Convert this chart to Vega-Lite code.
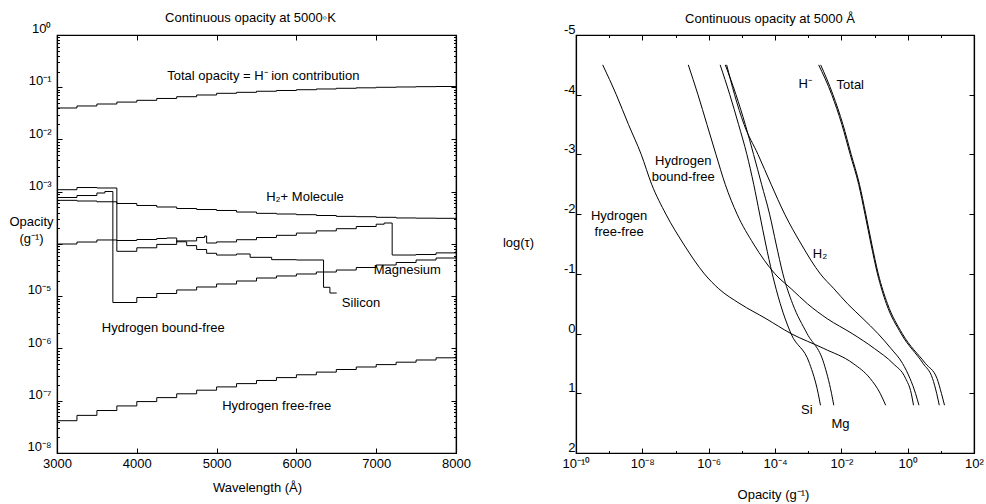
{
  "$schema": "https://vega.github.io/schema/vega-lite/v6.json",
  "background": "white",
  "padding": {"left": 8, "top": 10, "right": 0, "bottom": 0},
  "bounds": "flush",
  "spacing": 120,
  "config": {
    "font": "Liberation Sans",
    "view": {"stroke": "black", "strokeWidth": 1.2},
    "axis": {"domainColor": "black", "domainWidth": 1.2, "tickColor": "black", "tickWidth": 1, "labelColor": "black", "titleColor": "black", "labelFont": "Liberation Sans", "titleFont": "Liberation Sans", "labelFontSize": 13, "titleFontSize": 13, "titleFontWeight": "normal", "grid": false, "labelFlush": false, "labelOverlap": false},
    "title": {"font": "Liberation Sans", "fontSize": 13, "fontWeight": "normal", "color": "black"},
    "text": {"font": "Liberation Sans", "fontSize": 13, "color": "black"},
    "line": {"color": "black", "strokeWidth": 1}
  },
  "datasets": {
    "left": [
      {"series": "Total", "wavelength": 3000, "opacity": 0.0401},
      {"series": "Total", "wavelength": 3250, "opacity": 0.0438},
      {"series": "Total", "wavelength": 3500, "opacity": 0.0478},
      {"series": "Total", "wavelength": 3750, "opacity": 0.0520},
      {"series": "Total", "wavelength": 4000, "opacity": 0.0562},
      {"series": "Total", "wavelength": 4250, "opacity": 0.0610},
      {"series": "Total", "wavelength": 4500, "opacity": 0.0659},
      {"series": "Total", "wavelength": 4750, "opacity": 0.0711},
      {"series": "Total", "wavelength": 5000, "opacity": 0.0766},
      {"series": "Total", "wavelength": 5250, "opacity": 0.0800},
      {"series": "Total", "wavelength": 5500, "opacity": 0.0838},
      {"series": "Total", "wavelength": 5750, "opacity": 0.0867},
      {"series": "Total", "wavelength": 6000, "opacity": 0.0897},
      {"series": "Total", "wavelength": 6250, "opacity": 0.0927},
      {"series": "Total", "wavelength": 6500, "opacity": 0.0955},
      {"series": "Total", "wavelength": 6750, "opacity": 0.0975},
      {"series": "Total", "wavelength": 7000, "opacity": 0.0998},
      {"series": "Total", "wavelength": 7250, "opacity": 0.1012},
      {"series": "Total", "wavelength": 7500, "opacity": 0.1026},
      {"series": "Total", "wavelength": 7750, "opacity": 0.1033},
      {"series": "Total", "wavelength": 8000, "opacity": 0.1042},
      {"series": "H2+", "wavelength": 3000, "opacity": 6.85e-4},
      {"series": "H2+", "wavelength": 3250, "opacity": 6.65e-4},
      {"series": "H2+", "wavelength": 3500, "opacity": 6.43e-4},
      {"series": "H2+", "wavelength": 3750, "opacity": 5.96e-4},
      {"series": "H2+", "wavelength": 4000, "opacity": 5.46e-4},
      {"series": "H2+", "wavelength": 4250, "opacity": 5.11e-4},
      {"series": "H2+", "wavelength": 4500, "opacity": 4.78e-4},
      {"series": "H2+", "wavelength": 4750, "opacity": 4.57e-4},
      {"series": "H2+", "wavelength": 5000, "opacity": 4.38e-4},
      {"series": "H2+", "wavelength": 5250, "opacity": 4.09e-4},
      {"series": "H2+", "wavelength": 5500, "opacity": 3.86e-4},
      {"series": "H2+", "wavelength": 5750, "opacity": 3.75e-4},
      {"series": "H2+", "wavelength": 6000, "opacity": 3.64e-4},
      {"series": "H2+", "wavelength": 6250, "opacity": 3.51e-4},
      {"series": "H2+", "wavelength": 6500, "opacity": 3.38e-4},
      {"series": "H2+", "wavelength": 6750, "opacity": 3.33e-4},
      {"series": "H2+", "wavelength": 7000, "opacity": 3.24e-4},
      {"series": "H2+", "wavelength": 7250, "opacity": 3.15e-4},
      {"series": "H2+", "wavelength": 7500, "opacity": 3.12e-4},
      {"series": "H2+", "wavelength": 7750, "opacity": 3.10e-4},
      {"series": "H2+", "wavelength": 8000, "opacity": 3.08e-4},
      {"series": "Magnesium", "wavelength": 3000, "opacity": 1.094e-3},
      {"series": "Magnesium", "wavelength": 3250, "opacity": 1.205e-3},
      {"series": "Magnesium", "wavelength": 3500, "opacity": 1.180e-3},
      {"series": "Magnesium", "wavelength": 3750, "opacity": 7.25e-5},
      {"series": "Magnesium", "wavelength": 4000, "opacity": 8.46e-5},
      {"series": "Magnesium", "wavelength": 4250, "opacity": 9.82e-5},
      {"series": "Magnesium", "wavelength": 4500, "opacity": 1.146e-4},
      {"series": "Magnesium", "wavelength": 4750, "opacity": 1.331e-4},
      {"series": "Magnesium", "wavelength": 4850, "opacity": 1.422e-4},
      {"series": "Magnesium", "wavelength": 4875, "opacity": 1.045e-4},
      {"series": "Magnesium", "wavelength": 5000, "opacity": 1.096e-4},
      {"series": "Magnesium", "wavelength": 5250, "opacity": 1.208e-4},
      {"series": "Magnesium", "wavelength": 5500, "opacity": 1.331e-4},
      {"series": "Magnesium", "wavelength": 5750, "opacity": 1.466e-4},
      {"series": "Magnesium", "wavelength": 6000, "opacity": 1.618e-4},
      {"series": "Magnesium", "wavelength": 6250, "opacity": 1.782e-4},
      {"series": "Magnesium", "wavelength": 6500, "opacity": 1.963e-4},
      {"series": "Magnesium", "wavelength": 6750, "opacity": 2.163e-4},
      {"series": "Magnesium", "wavelength": 7000, "opacity": 2.393e-4},
      {"series": "Magnesium", "wavelength": 7100, "opacity": 2.523e-4},
      {"series": "Magnesium", "wavelength": 7200, "opacity": 6.15e-5},
      {"series": "Magnesium", "wavelength": 7500, "opacity": 6.29e-5},
      {"series": "Magnesium", "wavelength": 7750, "opacity": 6.76e-5},
      {"series": "Magnesium", "wavelength": 8000, "opacity": 7.25e-5},
      {"series": "Silicon", "wavelength": 3000, "opacity": 1.0e-4},
      {"series": "Silicon", "wavelength": 3250, "opacity": 1.091e-4},
      {"series": "Silicon", "wavelength": 3500, "opacity": 1.194e-4},
      {"series": "Silicon", "wavelength": 3750, "opacity": 1.167e-4},
      {"series": "Silicon", "wavelength": 4000, "opacity": 1.219e-4},
      {"series": "Silicon", "wavelength": 4250, "opacity": 1.274e-4},
      {"series": "Silicon", "wavelength": 4375, "opacity": 1.303e-4},
      {"series": "Silicon", "wavelength": 4500, "opacity": 1.102e-4},
      {"series": "Silicon", "wavelength": 4625, "opacity": 9.31e-5},
      {"series": "Silicon", "wavelength": 4750, "opacity": 7.85e-5},
      {"series": "Silicon", "wavelength": 4875, "opacity": 6.64e-5},
      {"series": "Silicon", "wavelength": 5000, "opacity": 6.15e-5},
      {"series": "Silicon", "wavelength": 5250, "opacity": 6.44e-5},
      {"series": "Silicon", "wavelength": 5420, "opacity": 5.56e-5},
      {"series": "Silicon", "wavelength": 5690, "opacity": 5.01e-5},
      {"series": "Silicon", "wavelength": 6000, "opacity": 4.94e-5},
      {"series": "Silicon", "wavelength": 6340, "opacity": 1.483e-5},
      {"series": "Silicon", "wavelength": 6420, "opacity": 1.153e-5},
      {"series": "Silicon", "wavelength": 6505, "opacity": 1.153e-5},
      {"series": "H bound-free", "wavelength": 3000, "opacity": 7.76e-4},
      {"series": "H bound-free", "wavelength": 3250, "opacity": 8.47e-4},
      {"series": "H bound-free", "wavelength": 3500, "opacity": 9.46e-4},
      {"series": "H bound-free", "wavelength": 3600, "opacity": 1.011e-3},
      {"series": "H bound-free", "wavelength": 3700, "opacity": 7.59e-6},
      {"series": "H bound-free", "wavelength": 4000, "opacity": 9.46e-6},
      {"series": "H bound-free", "wavelength": 4250, "opacity": 1.129e-5},
      {"series": "H bound-free", "wavelength": 4500, "opacity": 1.318e-5},
      {"series": "H bound-free", "wavelength": 4750, "opacity": 1.504e-5},
      {"series": "H bound-free", "wavelength": 5000, "opacity": 1.716e-5},
      {"series": "H bound-free", "wavelength": 5250, "opacity": 1.958e-5},
      {"series": "H bound-free", "wavelength": 5500, "opacity": 2.234e-5},
      {"series": "H bound-free", "wavelength": 5750, "opacity": 2.443e-5},
      {"series": "H bound-free", "wavelength": 6000, "opacity": 2.667e-5},
      {"series": "H bound-free", "wavelength": 6250, "opacity": 2.911e-5},
      {"series": "H bound-free", "wavelength": 6500, "opacity": 3.177e-5},
      {"series": "H bound-free", "wavelength": 6750, "opacity": 3.548e-5},
      {"series": "H bound-free", "wavelength": 7000, "opacity": 3.963e-5},
      {"series": "H bound-free", "wavelength": 7250, "opacity": 4.426e-5},
      {"series": "H bound-free", "wavelength": 7500, "opacity": 4.943e-5},
      {"series": "H bound-free", "wavelength": 7750, "opacity": 5.395e-5},
      {"series": "H bound-free", "wavelength": 8000, "opacity": 5.888e-5},
      {"series": "H free-free", "wavelength": 3000, "opacity": 4.15e-8},
      {"series": "H free-free", "wavelength": 3250, "opacity": 5.25e-8},
      {"series": "H free-free", "wavelength": 3500, "opacity": 6.50e-8},
      {"series": "H free-free", "wavelength": 3750, "opacity": 7.96e-8},
      {"series": "H free-free", "wavelength": 4000, "opacity": 9.64e-8},
      {"series": "H free-free", "wavelength": 4250, "opacity": 1.148e-7},
      {"series": "H free-free", "wavelength": 4500, "opacity": 1.358e-7},
      {"series": "H free-free", "wavelength": 4750, "opacity": 1.592e-7},
      {"series": "H free-free", "wavelength": 5000, "opacity": 1.841e-7},
      {"series": "H free-free", "wavelength": 5250, "opacity": 2.128e-7},
      {"series": "H free-free", "wavelength": 5500, "opacity": 2.443e-7},
      {"series": "H free-free", "wavelength": 5750, "opacity": 2.773e-7},
      {"series": "H free-free", "wavelength": 6000, "opacity": 3.141e-7},
      {"series": "H free-free", "wavelength": 6250, "opacity": 3.532e-7},
      {"series": "H free-free", "wavelength": 6500, "opacity": 3.963e-7},
      {"series": "H free-free", "wavelength": 6750, "opacity": 4.426e-7},
      {"series": "H free-free", "wavelength": 7000, "opacity": 4.920e-7},
      {"series": "H free-free", "wavelength": 7250, "opacity": 5.470e-7},
      {"series": "H free-free", "wavelength": 7500, "opacity": 6.026e-7},
      {"series": "H free-free", "wavelength": 7750, "opacity": 6.637e-7},
      {"series": "H free-free", "wavelength": 8000, "opacity": 7.278e-7}
    ],
    "leftLabels": [
      {"text": "Total opacity = H⁻ ion contribution", "wavelength": 5585, "opacity": 0.162},
      {"text": "H₂+ Molecule", "wavelength": 6108, "opacity": 8.04e-4},
      {"text": "Magnesium", "wavelength": 7390, "opacity": 3.22e-5},
      {"text": "Silicon", "wavelength": 6809, "opacity": 7.43e-6},
      {"text": "Hydrogen bound-free", "wavelength": 4332, "opacity": 2.47e-6},
      {"text": "Hydrogen free-free", "wavelength": 5753, "opacity": 7.83e-8}
    ],
    "right": [
      {"series": "H free-free", "logtau": -4.5, "opacity": 6.38e-10},
      {"series": "H free-free", "logtau": -4, "opacity": 1.64e-9},
      {"series": "H free-free", "logtau": -3.5, "opacity": 3.83e-9},
      {"series": "H free-free", "logtau": -3, "opacity": 9.25e-9},
      {"series": "H free-free", "logtau": -2.5, "opacity": 1.91e-8},
      {"series": "H free-free", "logtau": -2, "opacity": 5.13e-8},
      {"series": "H free-free", "logtau": -1.5, "opacity": 1.75e-7},
      {"series": "H free-free", "logtau": -1, "opacity": 7.43e-7},
      {"series": "H free-free", "logtau": -0.75, "opacity": 2.02e-6},
      {"series": "H free-free", "logtau": -0.5, "opacity": 8.79e-6},
      {"series": "H free-free", "logtau": -0.25, "opacity": 5.35e-5},
      {"series": "H free-free", "logtau": 0, "opacity": 3.03e-4},
      {"series": "H free-free", "logtau": 0.25, "opacity": 2.96e-3},
      {"series": "H free-free", "logtau": 0.5, "opacity": 2.26e-2},
      {"series": "H free-free", "logtau": 0.75, "opacity": 7.35e-2},
      {"series": "H free-free", "logtau": 1, "opacity": 0.148},
      {"series": "H free-free", "logtau": 1.2, "opacity": 0.217},
      {"series": "H bound-free", "logtau": -4.5, "opacity": 2.43e-7},
      {"series": "H bound-free", "logtau": -4, "opacity": 4.76e-7},
      {"series": "H bound-free", "logtau": -3.5, "opacity": 8.89e-7},
      {"series": "H bound-free", "logtau": -3, "opacity": 1.66e-6},
      {"series": "H bound-free", "logtau": -2.5, "opacity": 3.15e-6},
      {"series": "H bound-free", "logtau": -2, "opacity": 7.19e-6},
      {"series": "H bound-free", "logtau": -1.5, "opacity": 2.26e-5},
      {"series": "H bound-free", "logtau": -1, "opacity": 9.98e-5},
      {"series": "H bound-free", "logtau": -0.75, "opacity": 3.08e-4},
      {"series": "H bound-free", "logtau": -0.5, "opacity": 9.46e-4},
      {"series": "H bound-free", "logtau": -0.25, "opacity": 3.74e-3},
      {"series": "H bound-free", "logtau": 0, "opacity": 2.12e-2},
      {"series": "H bound-free", "logtau": 0.25, "opacity": 9.91e-2},
      {"series": "H bound-free", "logtau": 0.5, "opacity": 0.361},
      {"series": "H bound-free", "logtau": 0.75, "opacity": 0.865},
      {"series": "H bound-free", "logtau": 1, "opacity": 1.28},
      {"series": "H bound-free", "logtau": 1.2, "opacity": 1.50},
      {"series": "H2", "logtau": -4.5, "opacity": 3.49e-6},
      {"series": "H2", "logtau": -4, "opacity": 6.04e-6},
      {"series": "H2", "logtau": -3.5, "opacity": 1.17e-5},
      {"series": "H2", "logtau": -3, "opacity": 3.07e-5},
      {"series": "H2", "logtau": -2.5, "opacity": 7.62e-5},
      {"series": "H2", "logtau": -2, "opacity": 1.96e-4},
      {"series": "H2", "logtau": -1.5, "opacity": 6.15e-4},
      {"series": "H2", "logtau": -1, "opacity": 2.32e-3},
      {"series": "H2", "logtau": -0.75, "opacity": 6.00e-3},
      {"series": "H2", "logtau": -0.5, "opacity": 1.53e-2},
      {"series": "H2", "logtau": -0.25, "opacity": 4.49e-2},
      {"series": "H2", "logtau": 0, "opacity": 0.127},
      {"series": "H2", "logtau": 0.25, "opacity": 0.314},
      {"series": "H2", "logtau": 0.5, "opacity": 0.701},
      {"series": "H2", "logtau": 0.75, "opacity": 1.17},
      {"series": "H2", "logtau": 1, "opacity": 1.72},
      {"series": "H2", "logtau": 1.2, "opacity": 2.19},
      {"series": "Si", "logtau": -4.5, "opacity": 2.22e-6},
      {"series": "Si", "logtau": -4, "opacity": 4.34e-6},
      {"series": "Si", "logtau": -3.5, "opacity": 7.98e-6},
      {"series": "Si", "logtau": -3, "opacity": 1.42e-5},
      {"series": "Si", "logtau": -2.5, "opacity": 2.28e-5},
      {"series": "Si", "logtau": -2, "opacity": 3.45e-5},
      {"series": "Si", "logtau": -1.5, "opacity": 5.24e-5},
      {"series": "Si", "logtau": -1, "opacity": 8.28e-5},
      {"series": "Si", "logtau": -0.5, "opacity": 1.44e-4},
      {"series": "Si", "logtau": 0, "opacity": 3.03e-4},
      {"series": "Si", "logtau": 0.5, "opacity": 1.10e-3},
      {"series": "Si", "logtau": 1, "opacity": 2.00e-3},
      {"series": "Si", "logtau": 1.2, "opacity": 2.35e-3},
      {"series": "Mg", "logtau": -4.5, "opacity": 3.17e-6},
      {"series": "Mg", "logtau": -4, "opacity": 6.67e-6},
      {"series": "Mg", "logtau": -3.5, "opacity": 1.27e-5},
      {"series": "Mg", "logtau": -3, "opacity": 2.26e-5},
      {"series": "Mg", "logtau": -2.5, "opacity": 3.94e-5},
      {"series": "Mg", "logtau": -2, "opacity": 6.87e-5},
      {"series": "Mg", "logtau": -1.5, "opacity": 1.08e-4},
      {"series": "Mg", "logtau": -1, "opacity": 1.73e-4},
      {"series": "Mg", "logtau": -0.5, "opacity": 3.39e-4},
      {"series": "Mg", "logtau": 0, "opacity": 9.27e-4},
      {"series": "Mg", "logtau": 0.5, "opacity": 2.98e-3},
      {"series": "Mg", "logtau": 1, "opacity": 5.05e-3},
      {"series": "Mg", "logtau": 1.2, "opacity": 5.92e-3},
      {"series": "H-", "logtau": -4.5, "opacity": 2.07e-3},
      {"series": "H-", "logtau": -4, "opacity": 5.15e-3},
      {"series": "H-", "logtau": -3.5, "opacity": 1.04e-2},
      {"series": "H-", "logtau": -3, "opacity": 1.85e-2},
      {"series": "H-", "logtau": -2.5, "opacity": 3.33e-2},
      {"series": "H-", "logtau": -2, "opacity": 5.16e-2},
      {"series": "H-", "logtau": -1.5, "opacity": 7.83e-2},
      {"series": "H-", "logtau": -1, "opacity": 0.123},
      {"series": "H-", "logtau": -0.5, "opacity": 0.228},
      {"series": "H-", "logtau": 0, "opacity": 0.632},
      {"series": "H-", "logtau": 0.5, "opacity": 2.91},
      {"series": "H-", "logtau": 0.75, "opacity": 5.60},
      {"series": "H-", "logtau": 1, "opacity": 7.48},
      {"series": "H-", "logtau": 1.2, "opacity": 8.97},
      {"series": "Total", "logtau": -4.5, "opacity": 2.38e-3},
      {"series": "Total", "logtau": -4, "opacity": 5.60e-3},
      {"series": "Total", "logtau": -3.5, "opacity": 1.12e-2},
      {"series": "Total", "logtau": -3, "opacity": 1.98e-2},
      {"series": "Total", "logtau": -2.5, "opacity": 3.52e-2},
      {"series": "Total", "logtau": -2, "opacity": 5.46e-2},
      {"series": "Total", "logtau": -1.5, "opacity": 8.28e-2},
      {"series": "Total", "logtau": -1, "opacity": 0.130},
      {"series": "Total", "logtau": -0.5, "opacity": 0.246},
      {"series": "Total", "logtau": 0, "opacity": 0.687},
      {"series": "Total", "logtau": 0.5, "opacity": 3.44},
      {"series": "Total", "logtau": 0.75, "opacity": 7.64},
      {"series": "Total", "logtau": 1, "opacity": 10.4},
      {"series": "Total", "logtau": 1.2, "opacity": 12.9}
    ],
    "rightLabels": [
      {"text": "H⁻", "logtau": -4.18, "opacity": 8.18e-4},
      {"text": "Total", "logtau": -4.163, "opacity": 1.86e-2},
      {"text": "Hydrogen\nbound-free", "logtau": -2.89, "opacity": 1.72e-7},
      {"text": "Hydrogen\nfree-free", "logtau": -1.969, "opacity": 2.0e-9},
      {"text": "H₂", "logtau": -1.332, "opacity": 2.27e-3},
      {"text": "Si", "logtau": 1.275, "opacity": 9.08e-4},
      {"text": "Mg", "logtau": 1.515, "opacity": 9.42e-3}
    ]
  },
  "hconcat": [
    {
      "width": 399,
      "height": 418,
      "title": {"text": "Continuous opacity at 5000◦K", "dx": -6, "offset": -2},
      "layer": [
        {
          "data": {"name": "left"},
          "mark": {"type": "line", "interpolate": "step-after", "color": "black", "strokeWidth": 1},
          "encoding": {
            "x": {"field": "wavelength", "type": "quantitative", "scale": {"domain": [3000, 8000], "nice": false, "zero": false},
              "axis": {"orient": "bottom", "values": [3000, 4000, 5000, 6000, 7000, 8000], "format": "d", "tickSize": -5, "labelPadding": 9, "title": "Wavelength (Å)", "titleX": 200, "titleY": 34, "titleAlign": "center", "titleBaseline": "middle"}},
            "y": {"field": "opacity", "type": "quantitative", "scale": {"type": "log", "domain": [1e-8, 1], "nice": false},
              "axis": {"orient": "left",
                "values": [1e-8, 2e-8, 3e-8, 4e-8, 5e-8, 6e-8, 7e-8, 8e-8, 9e-8, 1e-7, 2e-7, 3e-7, 4e-7, 5e-7, 6e-7, 7e-7, 8e-7, 9e-7, 1e-6, 2e-6, 3e-6, 4e-6, 5e-6, 6e-6, 7e-6, 8e-6, 9e-6, 1e-5, 2e-5, 3e-5, 4e-5, 5e-5, 6e-5, 7e-5, 8e-5, 9e-5, 1e-4, 2e-4, 3e-4, 4e-4, 5e-4, 6e-4, 7e-4, 8e-4, 9e-4, 0.001, 0.002, 0.003, 0.004, 0.005, 0.006, 0.007, 0.008, 0.009, 0.01, 0.02, 0.03, 0.04, 0.05, 0.06, 0.07, 0.08, 0.09, 0.1, 0.2, 0.3, 0.4, 0.5, 0.6, 0.7, 0.8, 0.9, 1],
                "tickSize": {"condition": {"test": "abs(log(datum.value)/LN10 - round(log(datum.value)/LN10)) < 0.001", "value": -5}, "value": -2.5},
                "labelExpr": "abs(log(datum.value)/LN10 - round(log(datum.value)/LN10)) < 0.001 ? ['10⁰','10⁻¹','10⁻²','10⁻³','','10⁻⁵','10⁻⁶','10⁻⁷','10⁻⁸'][-round(log(datum.value)/LN10)] : ''",
                "labelBaseline": "alphabetic", "labelOffset": -2.5, "labelPadding": 11,
                "title": ["Opacity", "(g⁻¹)"], "titleAngle": 0, "titleX": -26, "titleY": 186, "titleAlign": "center", "titleBaseline": "middle", "titleLineHeight": 17}},
            "detail": {"field": "series"}
          }
        },
        {
          "data": {"name": "leftLabels"},
          "mark": {"type": "text", "font": "Liberation Sans", "fontSize": 13, "align": "center", "baseline": "middle"},
          "encoding": {
            "x": {"field": "wavelength", "type": "quantitative", "scale": {"domain": [3000, 8000], "nice": false, "zero": false},
              "axis": {"orient": "top", "values": [3000, 4000, 5000, 6000, 7000, 8000], "tickSize": -5, "labels": false, "title": null}},
            "y": {"field": "opacity", "type": "quantitative", "scale": {"type": "log", "domain": [1e-8, 1], "nice": false},
              "axis": {"orient": "right",
                "values": [1e-8, 2e-8, 3e-8, 4e-8, 5e-8, 6e-8, 7e-8, 8e-8, 9e-8, 1e-7, 2e-7, 3e-7, 4e-7, 5e-7, 6e-7, 7e-7, 8e-7, 9e-7, 1e-6, 2e-6, 3e-6, 4e-6, 5e-6, 6e-6, 7e-6, 8e-6, 9e-6, 1e-5, 2e-5, 3e-5, 4e-5, 5e-5, 6e-5, 7e-5, 8e-5, 9e-5, 1e-4, 2e-4, 3e-4, 4e-4, 5e-4, 6e-4, 7e-4, 8e-4, 9e-4, 0.001, 0.002, 0.003, 0.004, 0.005, 0.006, 0.007, 0.008, 0.009, 0.01, 0.02, 0.03, 0.04, 0.05, 0.06, 0.07, 0.08, 0.09, 0.1, 0.2, 0.3, 0.4, 0.5, 0.6, 0.7, 0.8, 0.9, 1],
                "tickSize": {"condition": {"test": "abs(log(datum.value)/LN10 - round(log(datum.value)/LN10)) < 0.001", "value": -5}, "value": -2.5},
                "labels": false, "title": null}},
            "text": {"field": "text"}
          }
        }
      ],
      "resolve": {"axis": {"x": "independent", "y": "independent"}}
    },
    {
      "width": 398,
      "height": 418,
      "title": {"text": "Continuous opacity at 5000 Å", "dx": -5, "offset": -2},
      "layer": [
        {
          "data": {"name": "right"},
          "mark": {"type": "line", "interpolate": "monotone", "color": "black", "strokeWidth": 1},
          "encoding": {
            "x": {"field": "opacity", "type": "quantitative", "scale": {"type": "log", "domain": [1e-10, 100], "nice": false},
              "axis": {"orient": "bottom", "values": [1e-10, 1e-9, 1e-8, 1e-7, 1e-6, 1e-5, 1e-4, 0.001, 0.01, 0.1, 1, 10, 100],
                "tickSize": {"condition": {"test": "round(log(datum.value)/LN10) % 2 == 0", "value": -5}, "value": -2.5},
                "labelExpr": "['10⁻¹⁰','','10⁻⁸','','10⁻⁶','','10⁻⁴','','10⁻²','','10⁰','','10²'][round(log(datum.value)/LN10) + 10]",
                "labelPadding": 9,
                "title": "Opacity (g⁻¹)", "titleX": 197, "titleY": 41, "titleAlign": "center", "titleBaseline": "middle"}},
            "y": {"field": "logtau", "type": "quantitative", "scale": {"domain": [-5, 2], "reverse": true, "nice": false, "zero": false},
              "axis": {"orient": "left", "values": [-5, -4, -3, -2, -1, 0, 1, 2], "tickSize": -5,
                "labelExpr": "'' + datum.value", "labelBaseline": "alphabetic", "labelOffset": -1.5, "labelPadding": 6,
                "title": "log(τ)", "titleAngle": 0, "titleX": -58, "titleY": 207, "titleAlign": "center", "titleBaseline": "middle"}},
            "detail": {"field": "series"},
            "order": {"field": "logtau"}
          }
        },
        {
          "data": {"name": "rightLabels"},
          "mark": {"type": "text", "font": "Liberation Sans", "fontSize": 13, "align": "center", "baseline": "middle", "lineBreak": "\n", "lineHeight": 16},
          "encoding": {
            "x": {"field": "opacity", "type": "quantitative", "scale": {"type": "log", "domain": [1e-10, 100], "nice": false},
              "axis": {"orient": "top", "values": [1e-10, 1e-9, 1e-8, 1e-7, 1e-6, 1e-5, 1e-4, 0.001, 0.01, 0.1, 1, 10, 100],
                "tickSize": {"condition": {"test": "round(log(datum.value)/LN10) % 2 == 0", "value": -5}, "value": -2.5},
                "labels": false, "title": null}},
            "y": {"field": "logtau", "type": "quantitative", "scale": {"domain": [-5, 2], "reverse": true, "nice": false, "zero": false},
              "axis": {"orient": "right", "values": [-5, -4, -3, -2, -1, 0, 1, 2], "tickSize": -5, "labels": false, "title": null}},
            "text": {"field": "text"}
          }
        }
      ],
      "resolve": {"axis": {"x": "independent", "y": "independent"}}
    }
  ]
}
